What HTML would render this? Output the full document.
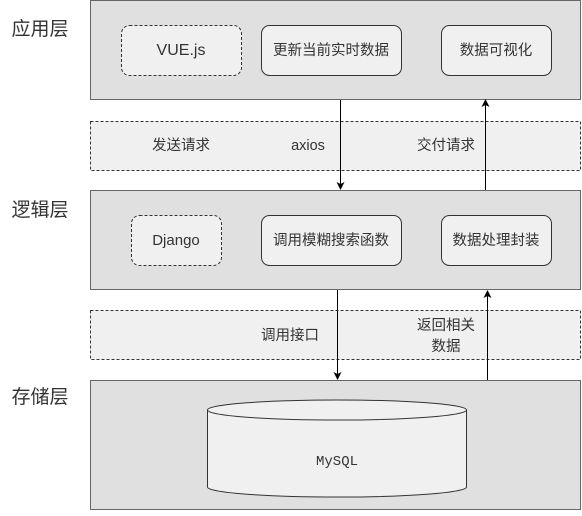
<!DOCTYPE html>
<html><head><meta charset="utf-8"><style>
body{margin:0;background:#fff;}
svg text{font-family:"Liberation Sans","Noto Sans CJK SC",sans-serif;fill:#333;}
</style></head><body>
<svg width="582" height="511" viewBox="0 0 582 511" xmlns="http://www.w3.org/2000/svg">
<defs><marker id="a" markerWidth="8" markerHeight="8" refX="7" refY="4" orient="auto" markerUnits="userSpaceOnUse"><path d="M0,0 L8,4 L0,8 L2,4 z" fill="#000"/></marker></defs>
<g font-size="14.5" text-anchor="middle">
<text x="40" y="35" font-size="19" fill="#000">应用层</text>
<rect x="90.5" y="0.5" width="490" height="99" fill="#e0e0e0" stroke="#666"/>
<rect x="121.5" y="25.5" width="120" height="50" rx="8" fill="#f0f0f0" stroke="#333" stroke-dasharray="3,2"/>
<text x="181" y="55" font-size="16">VUE.js</text>
<rect x="261.5" y="25.5" width="140" height="50" rx="8" fill="#f0f0f0" stroke="#333"/>
<text x="331" y="55">更新当前实时数据</text>
<rect x="441.5" y="25.5" width="110" height="50" rx="8" fill="#f0f0f0" stroke="#333"/>
<text x="496" y="55">数据可视化</text>

<rect x="90.5" y="121.5" width="490" height="49" fill="#f0f0f0" stroke="#333" stroke-dasharray="3,2"/>
<text x="181" y="150">发送请求</text>
<text x="308" y="150">axios</text>
<text x="446" y="150">交付请求</text>

<text x="40" y="216" font-size="19" fill="#000">逻辑层</text>
<rect x="90.5" y="190.5" width="490" height="99" fill="#e0e0e0" stroke="#666"/>
<rect x="131.5" y="215.5" width="90" height="50" rx="8" fill="#f0f0f0" stroke="#333" stroke-dasharray="3,2"/>
<text x="176" y="245" font-size="15">Django</text>
<rect x="261.5" y="215.5" width="140" height="50" rx="8" fill="#f0f0f0" stroke="#333"/>
<text x="331" y="245">调用模糊搜索函数</text>
<rect x="441.5" y="215.5" width="110" height="50" rx="8" fill="#f0f0f0" stroke="#333"/>
<text x="496" y="245">数据处理封装</text>

<rect x="90.5" y="310.5" width="490" height="49" fill="#f0f0f0" stroke="#333" stroke-dasharray="3,2"/>
<text x="290" y="340">调用接口</text>
<text x="446" y="330">返回相关</text>
<text x="446" y="351">数据</text>

<text x="40" y="403" font-size="19" fill="#000">存储层</text>
<rect x="90.5" y="380.5" width="490" height="129" fill="#e0e0e0" stroke="#666"/>
<path d="M207.5,410 A129,10 0 0 1 466.5,410 L466.5,487 A129,10 0 0 1 207.5,487 Z" fill="#f0f0f0" stroke="#333"/>
<path d="M207.5,410 A129,10 0 0 0 466.5,410" fill="none" stroke="#333"/>
<text x="337" y="465" style="font-family:'Liberation Mono',monospace;font-size:14px">MySQL</text>
</g>
<g stroke="#000" stroke-width="1">
<line x1="340.5" y1="100" x2="340.5" y2="189" marker-end="url(#a)"/>
<line x1="485.5" y1="190" x2="485.5" y2="100" marker-end="url(#a)"/>
<line x1="337.5" y1="290" x2="337.5" y2="379" marker-end="url(#a)"/>
<line x1="487.5" y1="380" x2="487.5" y2="291" marker-end="url(#a)"/>
</g>
</svg>
</body></html>
